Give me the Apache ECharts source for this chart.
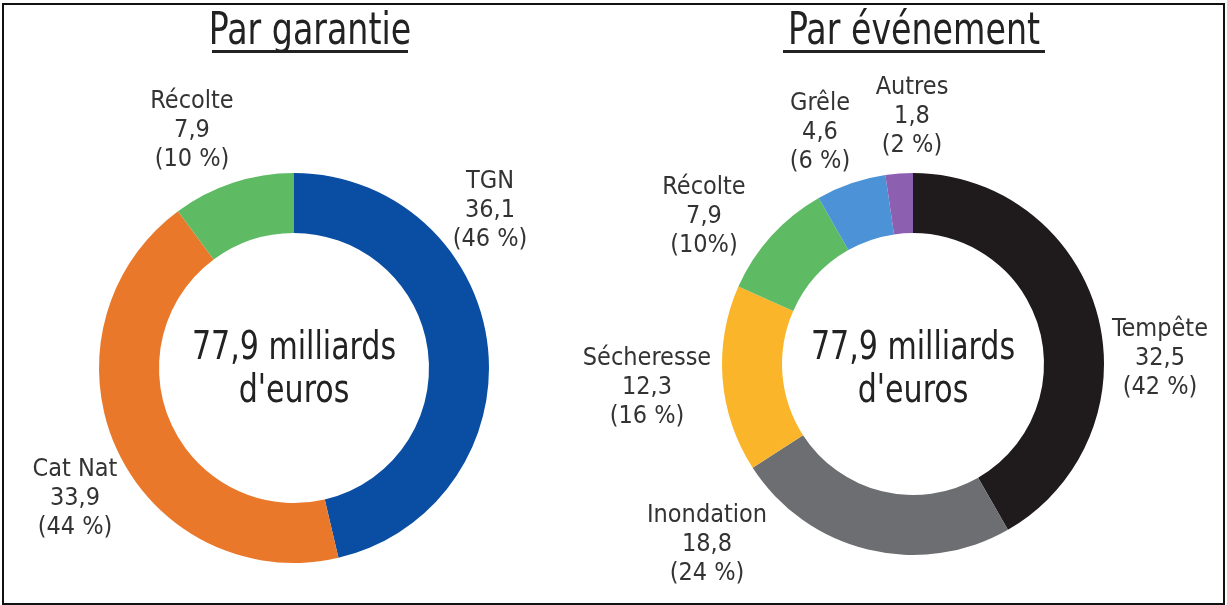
<!DOCTYPE html>
<html lang="fr">
<head>
<meta charset="utf-8">
<title>Répartition du coût des sinistres</title>
<script src="https://cdn.jsdelivr.net/npm/echarts@6/dist/echarts.min.js"></script>
<style>
  html, body { margin: 0; padding: 0; background: #fff; }
  #chart { width: 1227px; height: 605px; }
</style>
</head>
<body>
<div id="chart"></div>
<script>
// Coût par garantie (milliards d'euros)
const garantieNames = ['TGN', 'Cat Nat', 'Récolte'];
const garantieValues = [36.1, 33.9, 7.9];
const garantiePct = ['46 %', '44 %', '10 %'];
const garantieColors = ['#0a4ea3', '#ea782b', '#5fbb63'];

// Coût par événement (milliards d'euros)
const evenementNames = ['Tempête', 'Inondation', 'Sécheresse', 'Récolte', 'Grêle', 'Autres'];
const evenementValues = [32.5, 18.8, 12.3, 7.9, 4.6, 1.8];
const evenementPct = ['42 %', '24 %', '16 %', '10%', '6 %', '2 %'];
const evenementColors = ['#1f1a1b', '#6d6e71', '#fbb52b', '#5fbb63', '#4b93d6', '#8c5fb1'];

const totalLabel = '77,9 milliards';
const totalUnit = "d'euros";
const titles = ['Par garantie', 'Par événement'];

// Label anchor points (px) for each slice
const garantieLabelPos = [[490, 210], [75, 498], [192, 130]];
const evenementLabelPos = [[1160, 358], [707, 544], [647, 387], [704, 216], [820, 132], [912, 116]];

const FONT = '"DejaVu Sans Condensed", "Liberation Sans", sans-serif';

function fmtNum(v) { return v.toFixed(1).replace('.', ','); }

function buildData(names, values, colors) {
  return names.map((n, i) => ({ name: n, value: values[i], itemStyle: { color: colors[i] } }));
}

// Narrowed text block (titles and donut centres)
function narrowText(x, y, text, size, lineHeight) {
  return {
    type: 'text', x: x, y: y, scaleX: 0.88, scaleY: 1.04, silent: true,
    style: { text: text, fontFamily: FONT, fontSize: size, lineHeight: lineHeight,
      fill: '#222', align: 'center', verticalAlign: 'middle' }
  };
}

const chart = echarts.init(document.getElementById('chart'), null, { renderer: 'canvas' });

const labelStyle = {
  show: true,
  position: 'outside',
  color: '#333',
  fontFamily: FONT,
  fontSize: 25,
  lineHeight: 29,
  align: 'center',
  verticalAlign: 'middle'
};

chart.setOption({
  animation: false,
  backgroundColor: '#fff',
  graphic: [
    { type: 'rect', shape: { x: 3, y: 4, width: 1221, height: 600 },
      style: { fill: 'none', stroke: '#111', lineWidth: 2 }, silent: true },
    narrowText(310, 33, titles[0], 42, 46),
    narrowText(914, 33, titles[1], 42, 46),
    { type: 'rect', shape: { x: 212, y: 50, width: 196, height: 3 }, style: { fill: '#222' }, silent: true },
    { type: 'rect', shape: { x: 783, y: 50, width: 262, height: 3 }, style: { fill: '#222' }, silent: true },
    narrowText(294, 370, totalLabel + '\n' + totalUnit, 38, 41),
    narrowText(913, 370, totalLabel + '\n' + totalUnit, 38, 41)
  ],
  series: [
    {
      type: 'pie',
      center: [294, 368],
      radius: [135, 195],
      startAngle: 90,
      clockwise: true,
      avoidLabelOverlap: false,
      silent: true,
      data: buildData(garantieNames, garantieValues, garantieColors),
      label: Object.assign({}, labelStyle, {
        formatter: p => p.name + '\n' + fmtNum(p.value) + '\n(' + garantiePct[p.dataIndex] + ')'
      }),
      labelLine: { show: false },
      labelLayout: p => ({ x: garantieLabelPos[p.dataIndex][0], y: garantieLabelPos[p.dataIndex][1],
        align: 'center', verticalAlign: 'middle' })
    },
    {
      type: 'pie',
      center: [913, 364],
      radius: [131, 191],
      startAngle: 90,
      clockwise: true,
      avoidLabelOverlap: false,
      silent: true,
      data: buildData(evenementNames, evenementValues, evenementColors),
      label: Object.assign({}, labelStyle, {
        formatter: p => p.name + '\n' + fmtNum(p.value) + '\n(' + evenementPct[p.dataIndex] + ')'
      }),
      labelLine: { show: false },
      labelLayout: p => ({ x: evenementLabelPos[p.dataIndex][0], y: evenementLabelPos[p.dataIndex][1],
        align: 'center', verticalAlign: 'middle' })
    }
  ]
});
</script>
</body>
</html>
